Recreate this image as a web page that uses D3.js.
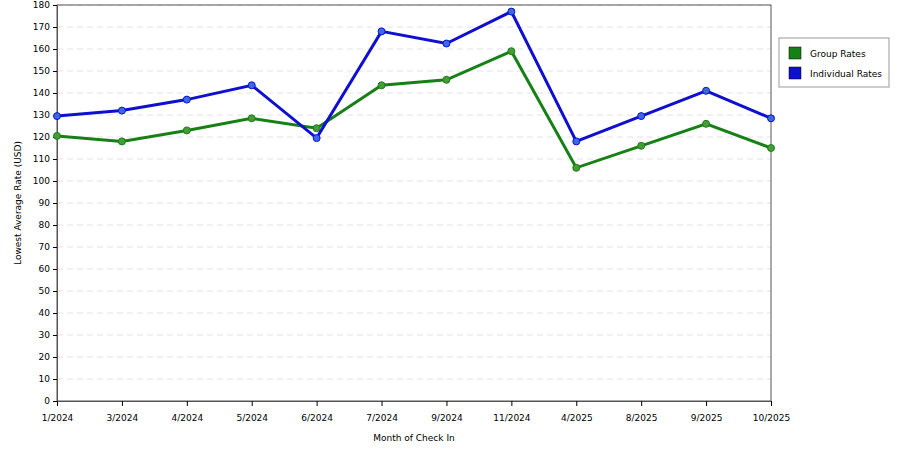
<!DOCTYPE html>
<html><head><meta charset="utf-8">
<script src="https://cdn.jsdelivr.net/npm/d3@7"></script>
<style>body{margin:0;background:#fff}text{font-family:"DejaVu Sans",sans-serif}</style>
</head><body>
<svg id="chart" width="900" height="450"></svg>
<script>
const months = ['1/2024','3/2024','4/2024','5/2024','6/2024','7/2024','9/2024','11/2024','4/2025','8/2025','9/2025','10/2025'];
const groupRates = [120.5,118,123,128.5,124,143.5,146,159,106,116,126,115];
const individualRates = [129.5,132,137,143.5,119.5,168,162.5,177,118,129.5,141,128.5];
const yTicks = d3.range(0, 181, 10);

const margin = {top: 5, right: 129, bottom: 49, left: 57};
const width = 900, height = 450;
const svg = d3.select('#chart');

const x = d3.scalePoint().domain(months).range([margin.left, width - margin.right]);
const y = d3.scaleLinear().domain([0, 180]).range([height - margin.bottom, margin.top]);

// grid
svg.append('g').selectAll('line').data(yTicks.slice(1)).join('line')
  .attr('x1', margin.left).attr('x2', width - margin.right)
  .attr('y1', d => y(d)).attr('y2', d => y(d))
  .attr('stroke', '#e2e2e2').attr('stroke-dasharray', '6,4');

svg.append('rect').attr('x', margin.left).attr('y', margin.top)
  .attr('width', width - margin.right - margin.left).attr('height', y(0) - margin.top)
  .attr('fill', 'none').attr('stroke', '#555');

svg.append('g').attr('transform', `translate(0,${y(0)})`)
  .call(d3.axisBottom(x).tickSize(5).tickPadding(9).tickSizeOuter(0))
  .call(g => g.select('.domain').attr('stroke', '#555'))
  .call(g => g.selectAll('text').attr('font-size', 9).attr('fill', '#000'));

svg.append('g').attr('transform', `translate(${margin.left},0)`)
  .call(d3.axisLeft(y).tickValues(yTicks).tickSize(4).tickSizeOuter(0))
  .call(g => g.select('.domain').attr('stroke', '#555'))
  .call(g => g.selectAll('text').attr('font-size', 9).attr('fill', '#000'));

svg.append('text').attr('x', (margin.left + width - margin.right) / 2).attr('y', 441)
  .attr('text-anchor', 'middle').attr('font-size', 9).text('Month of Check In');
svg.append('text').attr('transform', `translate(21,${(margin.top + y(0)) / 2}) rotate(-90)`)
  .attr('text-anchor', 'middle').attr('font-size', 9).text('Lowest Average Rate (USD)');

const series = [
  {name: 'Group Rates', values: groupRates, color: '#168016', dot: '#4a9a3a'},
  {name: 'Individual Rates', values: individualRates, color: '#0f0fd0', dot: '#3a6ae0'}
];
const line = d3.line().x((d, i) => x(months[i])).y(d => y(d));
series.forEach(s => {
  svg.append('path').datum(s.values).attr('d', line)
    .attr('fill', 'none').attr('stroke', s.color).attr('stroke-width', 3);
  svg.append('g').selectAll('circle').data(s.values).join('circle')
    .attr('cx', (d, i) => x(months[i])).attr('cy', d => y(d)).attr('r', 3.5)
    .attr('fill', s.dot).attr('stroke', s.color).attr('stroke-width', 1);
});

const lg = svg.append('g').attr('transform', 'translate(779,38)');
lg.append('rect').attr('width', 110).attr('height', 49).attr('fill', '#fff').attr('stroke', '#999');
series.forEach((s, i) => {
  lg.append('rect').attr('x', 10).attr('y', 9 + i * 20).attr('width', 12).attr('height', 12)
    .attr('fill', s.color).attr('stroke', '#000').attr('stroke-width', 0.5);
  lg.append('text').attr('x', 31).attr('y', 19 + i * 20).attr('font-size', 9).text(s.name);
});
</script>
</body></html>
